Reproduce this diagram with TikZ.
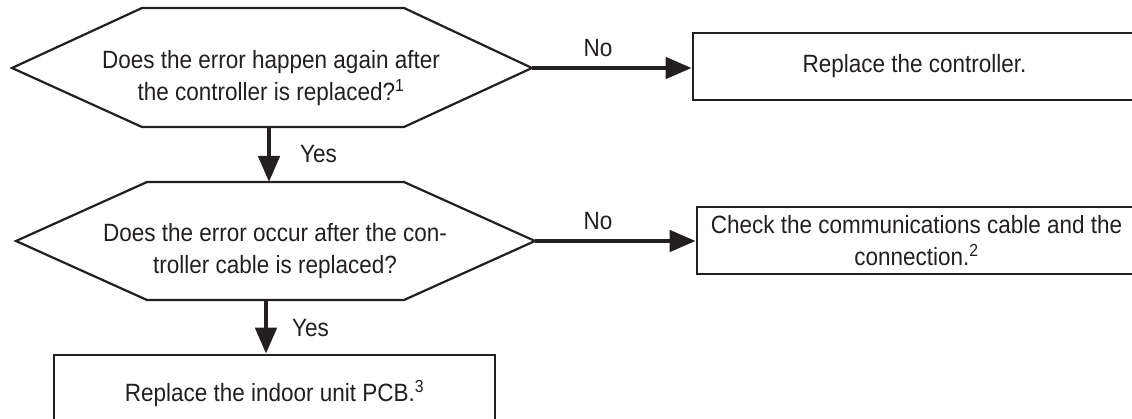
\documentclass[tikz,border=0pt]{standalone}
\usepackage{fontspec}
\setmainfont{Liberation Sans}[FakeStretch=0.9]
\usetikzlibrary{arrows.meta}
\definecolor{ink}{HTML}{231F20}
\begin{document}
\begin{tikzpicture}[x=1pt,y=-1pt,
  txt/.style={font=\fontsize{25}{32}\selectfont, text=ink, inner sep=0pt, align=center},
  hexline/.style={draw=ink, line width=2.2pt, line join=miter},
  boxnode/.style={txt, draw=ink, line width=2.6pt},
  flow/.style={draw=ink, line width=4.6pt, -{Triangle[length=26pt,width=21pt]}}
]
\useasboundingbox (0,0) rectangle (1132,419);
\begin{scope}
\clip (0,0) rectangle (1132,419);
% decision 1
\coordinate (h1w) at (12,68);
\coordinate (h1nw) at (142,8);
\coordinate (h1ne) at (404,8);
\coordinate (h1e) at (532,68);
\coordinate (h1se) at (404,127);
\coordinate (h1sw) at (142,127);
\coordinate (h1s) at (269,127);
\draw[hexline] (h1w) -- (h1nw) -- (h1ne) -- (h1e) -- (h1se) -- (h1sw) -- cycle;
\node[txt] (q1) at (271,78.5) {Does the error happen again after\\the controller is replaced?\textsuperscript{1}};
% decision 2
\coordinate (h2w) at (16,241);
\coordinate (h2nw) at (147,182);
\coordinate (h2ne) at (404,182);
\coordinate (h2e) at (535,241);
\coordinate (h2se) at (404,300);
\coordinate (h2sw) at (147,300);
\coordinate (h2n) at (269,182);
\coordinate (h2s) at (266,300);
\draw[hexline] (h2w) -- (h2nw) -- (h2ne) -- (h2e) -- (h2se) -- (h2sw) -- cycle;
\node[txt] (q2) at (275,251.5) {Does the error occur after the con-\\troller cable is replaced?};
% boxes
\node[boxnode, minimum width=443pt, minimum height=67pt] (b1) at (914.5,66.5) {Replace the controller.};
\node[boxnode, minimum width=439pt, minimum height=67pt] (b2) at (916.5,240.5) {Check the communications cable and the\\connection.\textsuperscript{2}};
\node[boxnode, minimum width=441pt, minimum height=76pt] (b3) at (274.5,393) {Replace the indoor unit PCB.\textsuperscript{3}};
% connectors
\draw[flow] (h1e) -- (h1e -| b1.west);
\draw[flow] (h2e) -- (h2e -| b2.west);
\draw[flow] (h1s) -- (h2n);
\draw[flow] (h2s) -- (h2s |- b3.north);
% labels
\node[txt] (no1) at (598,48) {No};
\node[txt] (no2) at (598,221) {No};
\node[txt, anchor=west] (yes1) at (300,154) {Yes};
\node[txt, anchor=west] (yes2) at (292,328) {Yes};
\end{scope}
\end{tikzpicture}
\end{document}
